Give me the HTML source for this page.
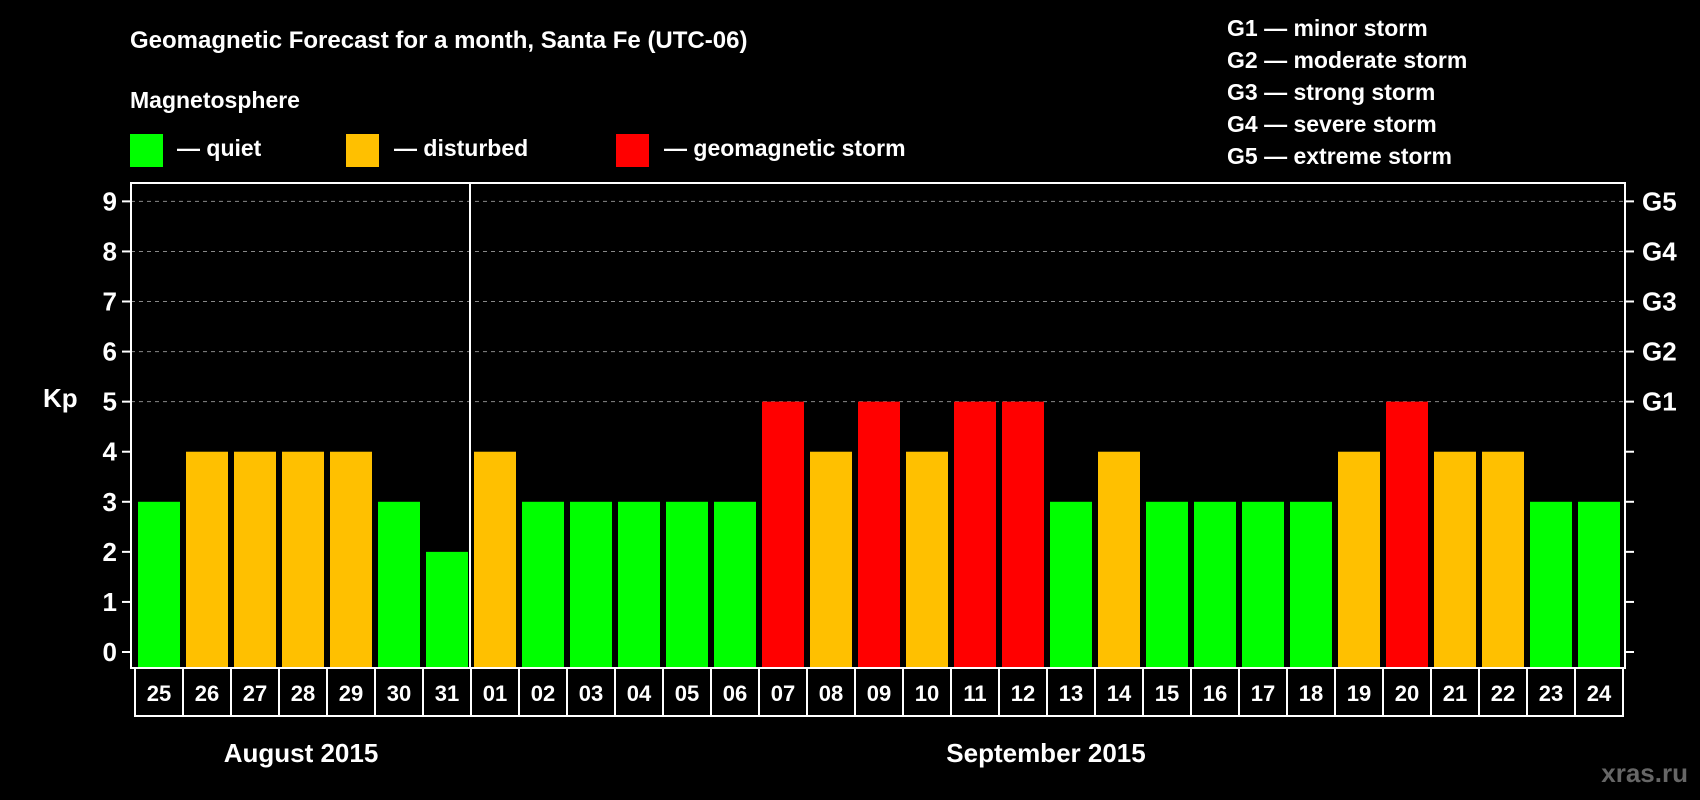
<!DOCTYPE html>
<html><head><meta charset="utf-8"><style>
body{margin:0;background:#000;}
svg{display:block;font-family:"Liberation Sans",Arial,sans-serif;font-weight:bold;}
</style></head><body>
<svg id="chart" width="1700" height="800" viewBox="0 0 1700 800">
<rect width="1700" height="800" fill="#000"/>
<text x="130" y="48" fill="#fff" font-size="24">Geomagnetic Forecast for a month, Santa Fe (UTC-06)</text>
<text x="130" y="108" fill="#fff" font-size="23">Magnetosphere</text>
<g><rect x="130" y="134" width="33" height="33" fill="#00ff00"/><text x="177" y="156" fill="#fff" font-size="23">— quiet</text></g>
<g><rect x="346" y="134" width="33" height="33" fill="#ffc000"/><text x="394" y="156" fill="#fff" font-size="23">— disturbed</text></g>
<g><rect x="616" y="134" width="33" height="33" fill="#ff0000"/><text x="664" y="156" fill="#fff" font-size="23">— geomagnetic storm</text></g>
<g fill="#fff" font-size="23">
<text x="1227" y="36">G1 — minor storm</text>
<text x="1227" y="68">G2 — moderate storm</text>
<text x="1227" y="100">G3 — strong storm</text>
<text x="1227" y="132">G4 — severe storm</text>
<text x="1227" y="164">G5 — extreme storm</text>
</g>
<text x="43" y="407" fill="#fff" font-size="26">Kp</text>
<g id="grid"></g><g id="bars"></g><g id="axes"></g><g id="days"></g>
<text x="301" y="762" fill="#fff" font-size="26" text-anchor="middle">August 2015</text>
<text x="1046" y="762" fill="#fff" font-size="26" text-anchor="middle">September 2015</text>
<text x="1688" y="782" fill="#666" font-size="26" text-anchor="end">xras.ru</text>
</svg>
<script>
const days=["25","26","27","28","29","30","31","01","02","03","04","05","06","07","08","09","10","11","12","13","14","15","16","17","18","19","20","21","22","23","24"];
const kp=[3,4,4,4,4,3,2,4,3,3,3,3,3,5,4,5,4,5,5,3,4,3,3,3,3,4,5,4,4,3,3];
const yTicks=[0,1,2,3,4,5,6,7,8,9];
const gLabels=["G1","G2","G3","G4","G5"];
const NS="http://www.w3.org/2000/svg";
const L=131,R=1625,T=183,B=668,y0=652,unit=50.07,x0=135,pitch=48;
const y=v=>y0-v*unit;
const x=i=>x0+i*pitch;
function mk(t,a,p){const e=document.createElementNS(NS,t);for(const k in a)e.setAttribute(k,a[k]);p.appendChild(e);return e;}
const grid=document.getElementById('grid'),bars=document.getElementById('bars'),axes=document.getElementById('axes'),dg=document.getElementById('days');
yTicks.forEach(v=>{
  if(v>=5){const g=mk('line',{x1:L,x2:R,y1:y(v),y2:y(v),stroke:'#888','stroke-dasharray':'4,4','stroke-width':1},grid);
  
  }
  const tl=mk('line',{x1:L-9,x2:L,y1:y(v),y2:y(v),stroke:'#fff','stroke-width':2},axes);
  
  
  const tr=mk('line',{x1:R,x2:R+9,y1:y(v),y2:y(v),stroke:'#fff','stroke-width':2},axes);
  
  
  const t=mk('text',{x:L-14,y:y(v)+9,fill:'#fff','font-size':26,'text-anchor':'end'},axes);t.textContent=v;
  
  
});
gLabels.forEach((g,i)=>{const t=mk('text',{x:R+17,y:y(i+5)+9,fill:'#fff','font-size':26},axes);t.textContent=g;
  
  });
kp.forEach((v,i)=>{
  const c=v>=5?'#ff0000':v>=4?'#ffc000':'#00ff00';
  const r=mk('rect',{x:x(i)+3,y:y(v),width:42,height:B-y(v),fill:c},bars);
  
  
  const b=mk('rect',{x:x(i),y:B,width:pitch,height:48,fill:'none',stroke:'#fff','stroke-width':2},dg);
  
  
  const t=mk('text',{x:x(i)+pitch/2,y:B+33,fill:'#fff','font-size':22,'text-anchor':'middle'},dg);t.textContent=days[i];
  
  
});
const fr=mk('rect',{x:L,y:T,width:R-L,height:B-T,fill:'none',stroke:'#fff','stroke-width':2},axes);


const dv=mk('line',{x1:x(7)-1,x2:x(7)-1,y1:T,y2:B,stroke:'#fff','stroke-width':2},axes);


</script>
</body></html>
